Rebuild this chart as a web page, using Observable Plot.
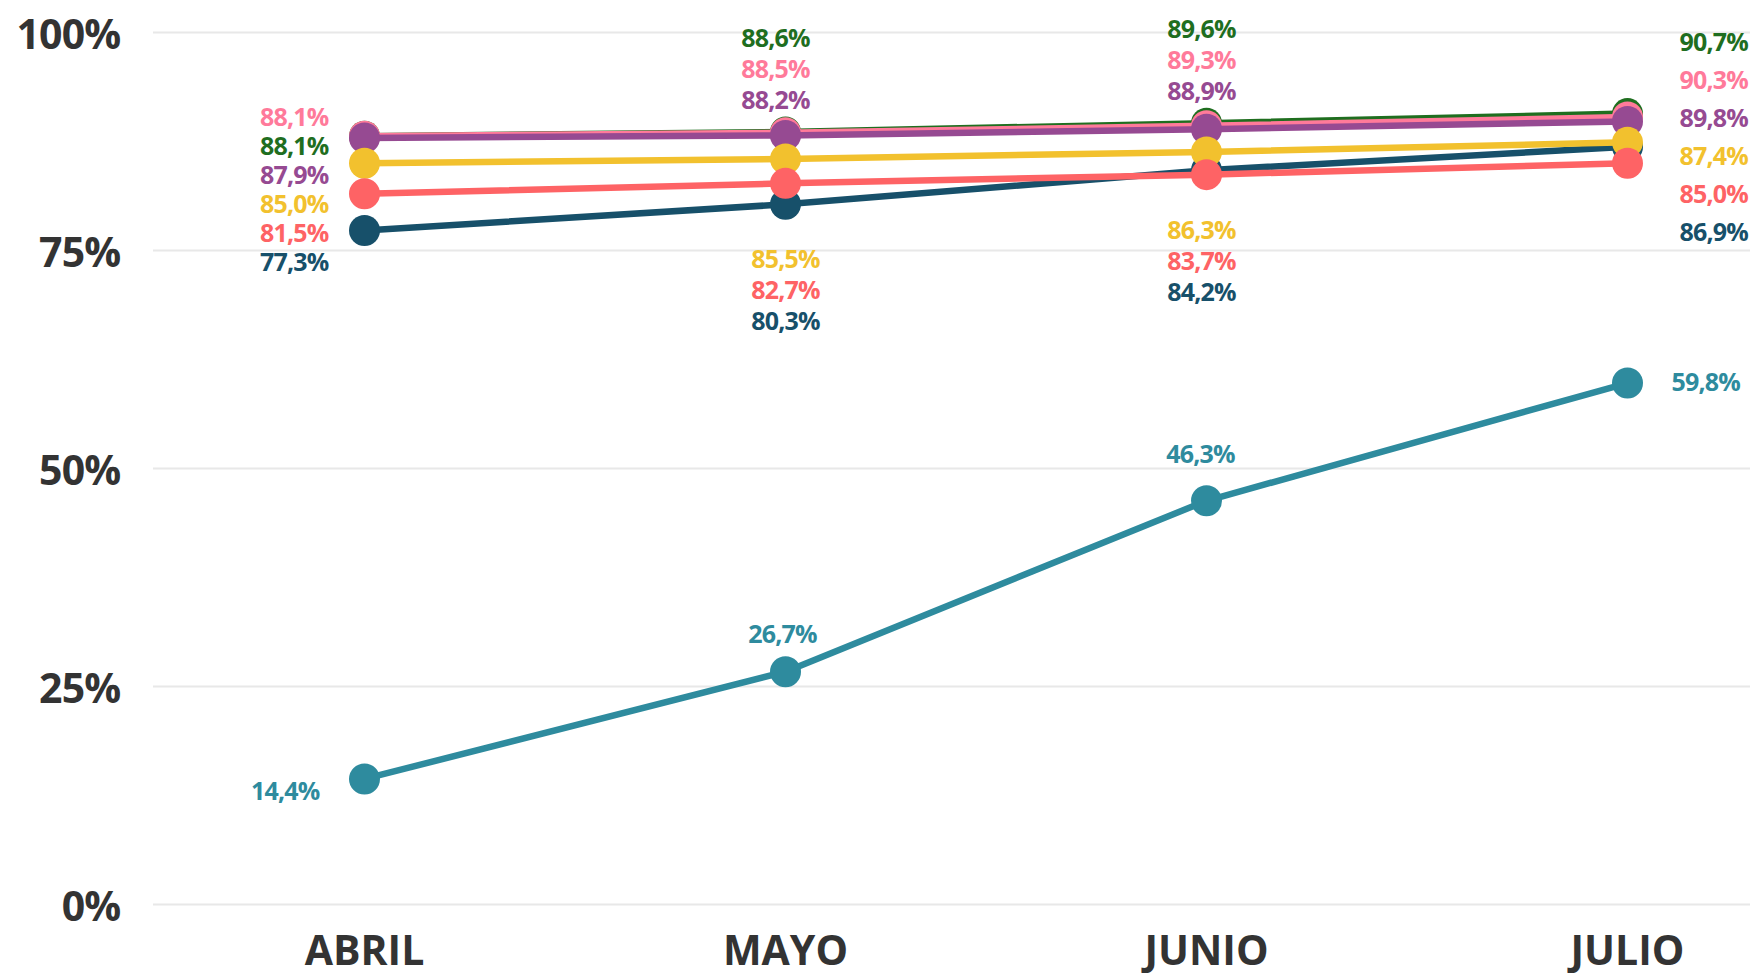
<!DOCTYPE html>
<html>
<head>
<meta charset="utf-8">
<script src="https://cdn.jsdelivr.net/npm/d3@7"></script>
<script src="https://cdn.jsdelivr.net/npm/@observablehq/plot@0.6"></script>
<style>
  html, body { margin: 0; padding: 0; background: #ffffff; }
  #chart svg { display: block; }
  #chart g[aria-label="text"] text { letter-spacing: -0.8px; }
</style>
</head>
<body>
<div id="chart"></div>
<script>
// ---- data ----
const months = ["ABRIL", "MAYO", "JUNIO", "JULIO"];
const seriesNames = ["verde", "rosa", "morado", "azul", "amarillo", "coral", "turquesa"];
const valuesVerde    = [88.1, 88.6, 89.6, 90.7];
const valuesRosa     = [88.1, 88.5, 89.3, 90.3];
const valuesMorado   = [87.9, 88.2, 88.9, 89.8];
const valuesAzul     = [77.3, 80.3, 84.2, 86.9];
const valuesAmarillo = [85.0, 85.5, 86.3, 87.4];
const valuesCoral    = [81.5, 82.7, 83.7, 85.0];
const valuesTurquesa = [14.4, 26.7, 46.3, 59.8];
const yTicks = [0, 25, 50, 75, 100];

// ---- styling ----
const colors = {
  verde: "#1f6e1f", rosa: "#ff7a9a", morado: "#964a92", azul: "#17506a",
  amarillo: "#f2c12e", coral: "#fe6365", turquesa: "#2e8b9e"
};
const allValues = {
  verde: valuesVerde, rosa: valuesRosa, morado: valuesMorado, azul: valuesAzul,
  amarillo: valuesAmarillo, coral: valuesCoral, turquesa: valuesTurquesa
};

const W = 1750, H = 973;
const mTop = 32, mBottom = 69, mLeft = 153, mRight = 0;
const ys = d3.scaleLinear().domain([0, 100]).range([H - mBottom, mTop]);
const fmt = v => v.toFixed(1).replace(".", ",") + "%";

const rows = [];
for (const s of seriesNames) {
  months.forEach((m, i) => rows.push({series: s, month: m, value: allValues[s][i]}));
}

// ---- label layout (computed from plotted positions) ----
const cluster = ["verde", "rosa", "morado", "azul", "amarillo", "coral"];
const labelGroups = []; // {rows, anchor, dx}
function addLabel(group, s, i, py) {
  group.push({series: s, month: months[i], value: allValues[s][i], ly: ys.invert(py)});
}
months.forEach((m, i) => {
  const vals = cluster.map(s => allValues[s][i]);
  const topY = ys(d3.max(vals)), botY = ys(d3.min(vals));
  if (i === 0) {
    const g = [];
    ["rosa", "verde", "morado", "amarillo", "coral", "azul"].forEach((s, k) => addLabel(g, s, i, topY - 18 + 29 * k));
    labelGroups.push({rows: g, anchor: "end", dx: -36});
  } else if (i === months.length - 1) {
    const g = [];
    const c = (topY + botY) / 2;
    ["verde", "rosa", "morado", "amarillo", "coral", "azul"].forEach((s, k) => addLabel(g, s, i, c + (k - 2.5) * 38));
    labelGroups.push({rows: g, anchor: "start", dx: 52});
  } else {
    const above = [], below = [];
    ["morado", "rosa", "verde"].forEach((s, k) => addLabel(above, s, i, topY - 31 - 31 * k));
    ["amarillo", "coral", "azul"].forEach((s, k) => addLabel(below, s, i, botY + 56 + 31 * k));
    labelGroups.push({rows: above, anchor: "middle", dx: i === 1 ? -10 : -5});
    labelGroups.push({rows: below, anchor: "middle", dx: i === 1 ? 0 : -5});
  }
});
// turquesa labels
const tqOffsets = [{dy: 13, anchor: "end", dx: -45}, {dy: -37, anchor: "middle", dx: -3},
                   {dy: -46, anchor: "middle", dx: -6}, {dy: 0, anchor: "start", dx: 44}];
months.forEach((m, i) => {
  const g = [];
  addLabel(g, "turquesa", i, ys(valuesTurquesa[i]) + tqOffsets[i].dy);
  labelGroups.push({rows: g, anchor: tqOffsets[i].anchor, dx: tqOffsets[i].dx});
});

// ---- marks ----
const drawOrder = ["verde", "rosa", "morado", "azul", "amarillo", "coral", "turquesa"];
const marks = [
  Plot.ruleY(yTicks, {stroke: "#e8e8e8", strokeWidth: 2}),
  Plot.text(yTicks, {
    y: d => d, text: d => d + "%", frameAnchor: "left", textAnchor: "end",
    dx: -33, dy: 3, fontSize: 41, fontWeight: 700, fill: "#333333"
  })
];
for (const s of drawOrder) {
  const r = rows.filter(d => d.series === s);
  marks.push(Plot.line(r, {x: "month", y: "value", stroke: colors[s], strokeWidth: 6.5}));
  marks.push(Plot.dot(r, {x: "month", y: "value", fill: colors[s], r: 15.5}));
}
for (const g of labelGroups) {
  marks.push(Plot.text(g.rows, {
    x: "month", y: "ly", text: d => fmt(d.value), fill: d => colors[d.series],
    textAnchor: g.anchor, dx: g.dx, fontSize: 25, fontWeight: 700
  }));
}

const chart = Plot.plot({
  width: W, height: H,
  marginTop: mTop, marginBottom: mBottom, marginLeft: mLeft, marginRight: mRight,
  style: {fontFamily: "'Open Sans', sans-serif", fontSize: "41px", fontWeight: 700, color: "#333333", background: "#ffffff"},
  x: {type: "point", domain: months, range: [364, 1627], padding: 0, tickSize: 0, tickPadding: 31, label: null},
  y: {domain: [0, 100], axis: null},
  color: {type: "identity"},
  marks
});
document.getElementById("chart").appendChild(chart);
</script>
</body>
</html>
